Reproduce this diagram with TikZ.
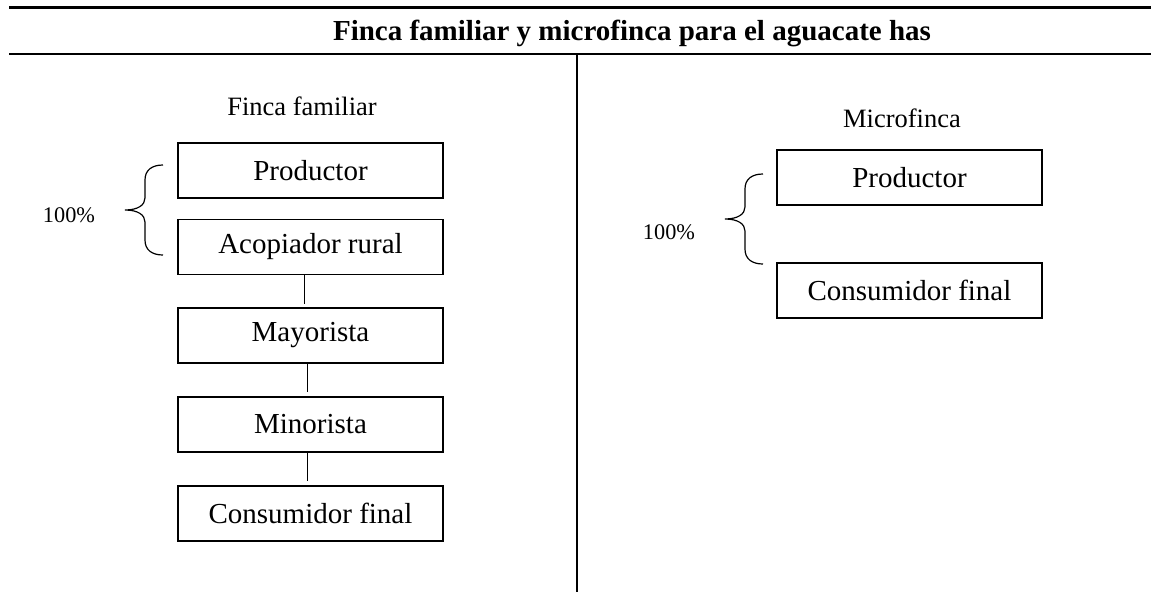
\documentclass[tikz,border=0pt]{standalone}
\usepackage{fontspec}
\setmainfont{Liberation Serif}
\begin{document}
\begin{tikzpicture}[x=1pt,y=-1pt,
  stagebox/.style={draw,line width=1.4pt,minimum width=265pt,minimum height=55pt,inner sep=0pt,font=\fontsize{29}{34}\selectfont},
  rulethick/.style={line width=2.4pt},
  link/.style={line width=0.9pt},
  colhead/.style={anchor=base,font=\fontsize{26.5}{30}\selectfont},
  pct/.style={font=\fontsize{22.3}{26}\selectfont},
  curlybrace/.pic={\draw[line width=1.2pt] (38,0) .. controls (27,0) and (20,5) .. (20,15) -- (20,33) .. controls (20,40) and (13,45) .. (0,45) .. controls (13,45) and (20,50) .. (20,57) -- (20,75) .. controls (20,85) and (27,90) .. (38,90);}
]
\useasboundingbox (0,0) rectangle (1151,592);
% rules
\coordinate (r1l) at (9,7.5);
\coordinate (r1r) at (1151,7.5);
\coordinate (r2l) at (9,54);
\coordinate (r2r) at (1151,54);
\coordinate (dtop) at (577,54);
\coordinate (dbot) at (577,592);
\draw[rulethick] (r1l) -- (r1r);
\draw[rulethick] (r2l) -- (r2r);
\draw[line width=1.5pt] (dtop) -- (dbot);
% title
\node[anchor=base,font=\bfseries\fontsize{29}{34}\selectfont] (title) at (632,40) {Finca familiar y microfinca para el aguacate has};
% left column
\node[colhead] (hleft) at (302,115) {Finca familiar};
\node[stagebox] (prodL) at (310.5,170.5) {Productor};
\node[stagebox] (acop) at (310.5,247) {Acopiador rural};
\node[stagebox] (may) at (310.5,335.5) {Mayorista};
\node[stagebox] (min) at (310.5,424.5) {Minorista};
\node[stagebox] (consL) at (310.5,513.5) {Consumidor final};
\draw[link] ([xshift=-6pt]acop.south) -- ([xshift=-6pt,yshift=3pt]may.north);
\draw[link] ([xshift=-3pt]may.south) -- ([xshift=-3pt,yshift=4pt]min.north);
\draw[link] ([xshift=-3pt]min.south) -- ([xshift=-3pt,yshift=4pt]consL.north);
\pic at (125,165) {curlybrace};
\node[pct] (pctL) at (69,215) {100\%};
% right column
\node[colhead] (hright) at (902,127) {Microfinca};
\node[stagebox] (prodR) at (909.5,177.5) {Productor};
\node[stagebox] (consR) at (909.5,290.5) {Consumidor final};
\pic at (725,174) {curlybrace};
\node[pct] (pctR) at (669,232) {100\%};
\end{tikzpicture}
\end{document}
